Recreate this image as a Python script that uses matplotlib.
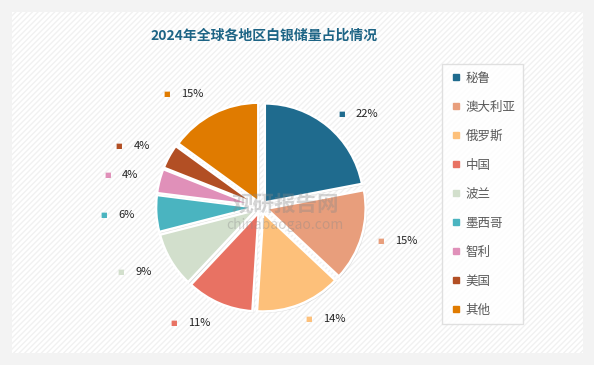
import numpy as np
import matplotlib.pyplot as plt
from matplotlib.patches import Rectangle
from matplotlib.lines import Line2D
from matplotlib.offsetbox import TextArea, HPacker, AnnotationBbox
import matplotlib.patheffects as pe

plt.rcParams['font.family'] = ['Noto Sans CJK SC', 'DejaVu Sans']

# data
regions = ['秘鲁', '澳大利亚', '俄罗斯', '中国', '波兰', '墨西哥', '智利', '美国', '其他']
shares = [22, 15, 14, 11, 9, 6, 4, 4, 15]
colors = ['#1f6b8e', '#e89e7c', '#fdc07a', '#e87263', '#d2dfcc',
          '#4ab4c0', '#e090b9', '#b24f24', '#e07b00']
title = '2024年全球各地区白银储量占比情况'

W, H = 594, 365
fig = plt.figure(figsize=(W / 100, H / 100), dpi=100)
fig.patch.set_facecolor('#f3f3f3')

# white panel with faint diagonal hatch
panel = Rectangle((12 / W, 12 / H), 571 / W, 341 / H, transform=fig.transFigure,
                  facecolor='white', edgecolor='#f1f1f1', hatch='//////', lw=0, zorder=-5)
fig.patches.append(panel)

fig.text(264 / W, 1 - 36 / H, title, ha='center', va='center', fontsize=10,
         fontweight='bold', color='#1d6485')

# pie axes
cx, cy, R = 261, 207, 99
span = 1.6
size = 2 * span * R
ax = fig.add_axes([(cx - size / 2) / W, (H - cy - size / 2) / H, size / W, size / H])
ax.patch.set_visible(False)

wedges, _ = ax.pie(shares, colors=colors, startangle=90, counterclock=False,
                   explode=[0.06] * len(shares),
                   wedgeprops=dict(edgecolor='white', linewidth=1.8))
ax.set_xlim(-span, span)
ax.set_ylim(-span, span)
ax.set_aspect('equal')
ax.axis('off')
for w in wedges:
    w.set_path_effects([pe.SimplePatchShadow(offset=(1, -1), shadow_rgbFace='#000000', alpha=0.12),
                        pe.Normal()])

# data labels: small coloured square then percentage, placed outside the wedge
for w, v, c in zip(wedges, shares, colors):
    ang = np.deg2rad((w.theta1 + w.theta2) / 2)
    right = np.cos(ang) >= 0
    r = 1.22 if right else 1.28
    x, y = r * np.cos(ang), r * np.sin(ang)
    box = HPacker(children=[
        TextArea('■', textprops=dict(fontsize=5, color=c, family='DejaVu Sans')),
        TextArea(f'{v}%', textprops=dict(fontsize=8, color='#222222')),
    ], sep=8, align='center', pad=0)
    ab = AnnotationBbox(box, (x, y), box_alignment=(0 if right else 1, 0.5),
                        frameon=False, pad=0)
    ax.add_artist(ab)

# watermark
fig.text(285 / W, 1 - 204 / H, '观研报告网', ha='center', va='center',
         fontsize=15.5, fontweight='bold', color='#888888', alpha=0.35)
fig.text(285 / W, 1 - 225 / H, 'chinabaogao.com', ha='center', va='center',
         fontsize=10, color='#888888', alpha=0.35)

handles = [Line2D([], [], marker='s', ls='', markersize=5, color=c) for c in colors]
leg = fig.legend(handles, regions, loc='upper left', bbox_to_anchor=(442 / W, 1 - 64 / H),
                 borderaxespad=0, frameon=True, fancybox=False, fontsize=9,
                 labelspacing=1.28, handletextpad=0.3, handlelength=1.0,
                 borderpad=0.6, labelcolor='#595959')
leg.get_frame().set_edgecolor('#d9d9d9')
leg.get_frame().set_linewidth(1)

fig.savefig('out.png', dpi=100, facecolor=fig.get_facecolor())
